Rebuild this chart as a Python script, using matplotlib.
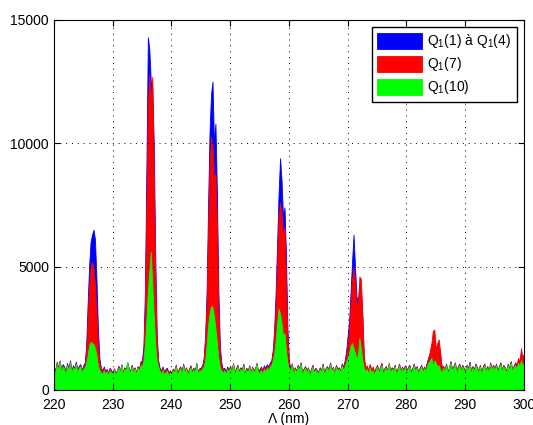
import numpy as np
import matplotlib
matplotlib.use("Agg")
import matplotlib.pyplot as plt

plt.rcParams['font.family'] = ['Liberation Sans', 'DejaVu Sans']
plt.rcParams['mathtext.default'] = 'regular'

# wavelength grid (nm), 0.25 nm step
wl = np.arange(220, 300.001, 0.25)

# Q1(1) a Q1(4)  (blue)
q_1_4 = [
    1000, 760, 1150, 900, 1180, 820, 1050, 950, 720, 1100, 860, 1200, 780, 1000, 900, 1150, 820, 980, 1050, 800,
    1000, 1100, 1800, 3500, 5000, 6000, 6300, 6500, 6100, 4500, 2500, 1300, 900, 800, 950, 750, 850, 700, 900, 800,
    720, 880, 660, 820, 980, 780, 1020, 700, 920, 820, 1120, 870, 760, 1020, 780, 920, 720, 960, 880, 1150,
    1200, 1800, 4000, 9000, 14300, 13800, 12500, 12300, 10000, 5500, 2300, 1200, 900, 800, 950, 750, 850, 900, 700, 800,
    700, 870, 780, 1020, 660, 840, 960, 720, 1070, 800, 920, 680, 860, 1000, 760, 900, 800, 1080, 720, 880,
    900, 1000, 1300, 2200, 4000, 7500, 10500, 12000, 12500, 10000, 10800, 8000, 4000, 1800, 1100, 850, 900, 750, 950, 820,
    970, 780, 1080, 700, 880, 1020, 760, 920, 840, 1060, 680, 900, 780, 1000, 720, 950, 800, 880, 1080, 760,
    850, 950, 800, 1000, 900, 1050, 950, 1100, 1200, 1600, 2500, 4000, 6000, 8000, 9400, 8500, 7000, 7400, 5500, 2500,
    1200, 850, 1080, 740, 920, 780, 1020, 880, 1120, 700, 860, 970, 780, 920, 680, 840, 1020, 760, 900, 800,
    740, 920, 800, 1070, 680, 880, 970, 780, 1120, 840, 940, 700, 1020, 860, 920, 780, 1080, 950, 1200, 1600,
    2200, 2800, 4000, 5200, 6300, 5000, 3800, 3600, 4300, 4100, 3000, 1300, 850, 950, 750, 1000, 800, 900, 700, 850,
    1020, 780, 920, 1080, 740, 880, 970, 800, 1080, 760, 920, 840, 1020, 700, 880, 1070, 780, 950, 820, 1000,
    780, 920, 1020, 760, 880, 1070, 820, 970, 720, 900, 1020, 800, 950, 870, 1150, 1350, 1500, 1800, 2000, 2100,
    1600, 1800, 1900, 1400, 950, 970, 820, 1070, 720, 920, 1170, 860, 970, 1120, 780, 950, 1070, 840, 1020, 900,
    780, 1020, 880, 1150, 740, 970, 840, 1070, 920, 780, 1020, 700, 950, 1070, 820, 970, 760, 1120, 880, 1020,
    880, 1070, 780, 970, 1120, 820, 1020, 920, 780, 1070, 880, 1170, 820, 970, 1120, 1020, 1250, 1150, 1500, 1350,
    1450,
]

# Q1(7)  (red)
q_7 = [
    950, 700, 1100, 850, 1200, 760, 980, 900, 680, 1050, 820, 1150, 720, 950, 880, 1100, 780, 930, 1000, 760,
    950, 1000, 1500, 2800, 4200, 5000, 5200, 4900, 4300, 3200, 1800, 1100, 850, 750, 900, 700, 800, 680, 850, 760,
    700, 860, 640, 800, 950, 760, 1050, 680, 900, 800, 1100, 850, 740, 1000, 760, 900, 700, 950, 850, 1100,
    1100, 1500, 3300, 7500, 11500, 12800, 11800, 12700, 9000, 4800, 2000, 1100, 850, 750, 900, 700, 820, 850, 650, 760,
    680, 850, 760, 1000, 640, 820, 940, 700, 1050, 780, 900, 660, 840, 980, 740, 880, 780, 1100, 700, 860,
    850, 950, 1200, 2000, 3500, 6500, 9000, 10250, 9900, 8500, 8800, 6800, 3300, 1500, 950, 800, 850, 700, 900, 780,
    950, 760, 1100, 680, 860, 1000, 740, 900, 820, 1050, 660, 880, 760, 980, 700, 930, 780, 860, 1100, 740,
    800, 900, 760, 950, 850, 1000, 900, 1050, 1100, 1500, 2200, 3500, 5200, 7000, 7600, 7200, 6200, 6600, 4500, 2000,
    1100, 820, 1050, 720, 900, 760, 1000, 860, 1100, 680, 840, 950, 760, 900, 660, 820, 1000, 740, 880, 780,
    720, 900, 780, 1050, 660, 860, 950, 760, 1100, 820, 920, 680, 1000, 840, 900, 760, 1050, 900, 1100, 1400,
    1900, 2400, 3500, 4500, 4950, 4400, 3500, 3400, 4600, 4500, 3000, 1400, 900, 1000, 800, 1050, 850, 950, 750, 900,
    1000, 760, 900, 1100, 720, 860, 950, 780, 1100, 740, 900, 820, 1000, 680, 860, 1050, 760, 930, 800, 980,
    760, 900, 1000, 740, 860, 1050, 800, 950, 700, 880, 1000, 780, 930, 850, 1100, 1300, 1600, 1900, 2400, 2450,
    1700, 1900, 2050, 1500, 900, 950, 800, 1050, 700, 900, 1150, 840, 950, 1100, 760, 930, 1050, 820, 1000, 880,
    760, 1000, 860, 1100, 720, 950, 820, 1050, 900, 760, 1000, 680, 930, 1050, 800, 950, 740, 1100, 860, 1000,
    860, 1050, 760, 950, 1100, 800, 1000, 900, 760, 1050, 860, 1150, 800, 950, 1100, 1000, 1300, 1150, 1700, 1300,
    1400,
]

# Q1(10)  (green)
q_10 = [
    900, 650, 1050, 800, 1150, 700, 950, 850, 600, 1000, 780, 1100, 680, 900, 820, 1050, 720, 880, 960, 700,
    850, 900, 1100, 1400, 1800, 1950, 1900, 1850, 1700, 1400, 1000, 800, 700, 650, 800, 620, 760, 600, 780, 700,
    650, 820, 580, 760, 900, 700, 1000, 620, 850, 750, 1150, 800, 680, 950, 700, 860, 620, 900, 780, 1000,
    950, 1200, 1800, 2800, 4000, 4800, 5600, 4300, 3000, 1900, 1200, 950, 780, 650, 820, 600, 720, 780, 580, 700,
    620, 800, 700, 950, 580, 760, 880, 650, 1000, 720, 850, 600, 780, 920, 680, 830, 720, 1050, 640, 800,
    780, 850, 950, 1200, 1800, 2600, 3100, 3400, 3350, 3000, 2500, 1900, 1300, 900, 780, 700, 800, 650, 850, 720,
    900, 700, 1050, 620, 800, 950, 680, 850, 760, 1000, 600, 820, 700, 940, 650, 880, 720, 800, 1050, 680,
    720, 800, 650, 850, 750, 900, 800, 950, 1000, 1200, 1500, 2000, 2700, 3300, 3100, 2700, 2200, 2300, 1600, 1100,
    900, 750, 1000, 650, 850, 700, 950, 800, 1050, 620, 780, 900, 700, 850, 600, 760, 950, 680, 820, 720,
    650, 850, 720, 1000, 600, 800, 900, 700, 1050, 750, 880, 620, 950, 780, 850, 700, 1000, 800, 950, 1150,
    1300, 1500, 1800, 1900, 1700, 1500, 1300, 1400, 2100, 1700, 1200, 900, 750, 850, 650, 900, 700, 800, 620, 780,
    950, 700, 850, 1000, 650, 800, 900, 720, 1050, 680, 850, 760, 950, 620, 800, 1000, 700, 880, 750, 920,
    700, 850, 950, 680, 800, 1000, 750, 900, 650, 820, 950, 720, 880, 780, 1000, 1100, 1200, 1300, 1000, 1200,
    1100, 950, 1000, 800, 700, 900, 750, 1000, 650, 850, 1100, 780, 900, 1050, 700, 880, 1000, 760, 950, 820,
    700, 950, 800, 1050, 650, 900, 760, 1000, 850, 700, 950, 620, 880, 1000, 750, 900, 680, 1050, 800, 950,
    800, 1000, 700, 900, 1050, 750, 950, 850, 700, 1000, 800, 1100, 750, 900, 1000, 850, 1100, 950, 1200, 1000,
    1100,
]

labels = ['Q$_1$(1) à Q$_1$(4)', 'Q$_1$(7)', 'Q$_1$(10)']
colors = ['#0000ff', '#ff0000', '#00ff00']

fig = plt.figure(figsize=(5.33, 4.25), dpi=100)
ax = fig.add_axes([0.101, 0.0824, 0.882, 0.8706])

for series, lab, col in zip([q_1_4, q_7, q_10], labels, colors):
    ax.fill_between(wl, 0, series, facecolor=col, edgecolor=col, linewidth=0.6, label=lab)

ax.set_xlim(220, 300)
ax.set_ylim(0, 15000)
ax.set_xticks(np.arange(220, 301, 10))
ax.set_yticks([0, 5000, 10000, 15000])
ax.tick_params(direction='in', top=True, right=True, labelsize=10, length=4)
ax.tick_params(axis='x', pad=6)
ax.grid(True, linestyle=(0, (1, 5)), color='black', linewidth=0.7)
ax.set_axisbelow(False)
ax.set_xlabel('Λ (nm)', fontsize=10, labelpad=0)

leg = ax.legend(loc='upper right', fontsize=10, fancybox=False, framealpha=1,
                edgecolor='black', handlelength=3.2, handleheight=1.4,
                borderaxespad=0.5, labelspacing=0.35, handletextpad=0.4)
leg.get_frame().set_linewidth(1.0)

fig.savefig('out.png', dpi=100)
